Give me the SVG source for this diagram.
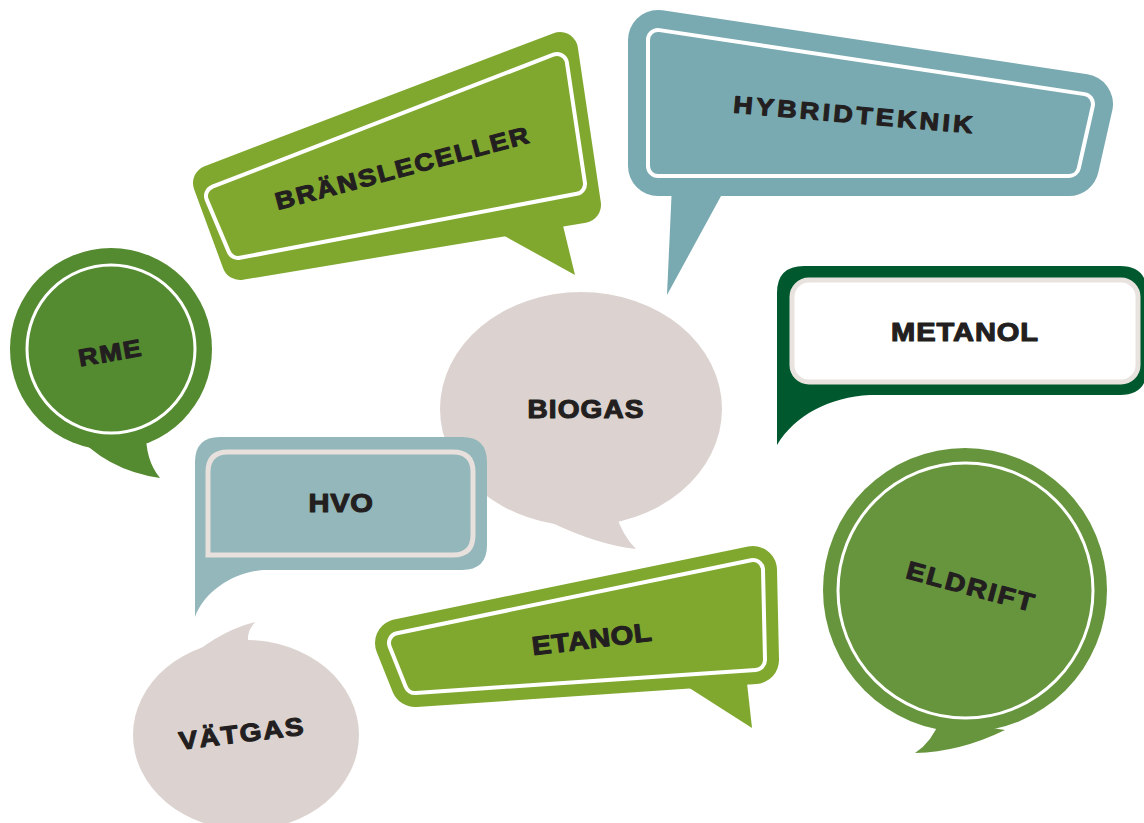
<svg xmlns="http://www.w3.org/2000/svg" width="1144" height="823" viewBox="0 0 1144 823">
<style>
.t{font-family:"Liberation Sans",Arial,sans-serif;font-weight:bold;fill:#231f20;stroke:#231f20;stroke-width:1.1;stroke-linejoin:round;text-anchor:middle}
.rj{stroke-linejoin:round}
</style>
<rect width="1144" height="823" fill="#ffffff"/>
<g id="rme">
<circle cx="111" cy="349" r="101" fill="#548a30"/>
<path d="M72,430 Q105,470 160,478 Q145,460 146,430 Z" fill="#548a30"/>
<circle cx="111" cy="349" r="84" fill="none" stroke="#ffffff" stroke-width="3"/>
<text class="t" font-size="24" letter-spacing="1.5" transform="translate(112,361) rotate(-10) scale(1.12,1)">RME</text>
</g>
<g id="bransleceller">
<path d="M490,228 L575,275 L558,205 Z" fill="#80a82f"/>
<polygon class="rj" points="211,183 560,50 583,205 240,262" fill="#80a82f" stroke="#80a82f" stroke-width="36"/>
<polygon class="rj" points="216,196 557,64 575,184 238,248" fill="none" stroke="#ffffff" stroke-width="24"/>
<polygon class="rj" points="216,196 557,64 575,184 238,248" fill="#80a82f" stroke="#80a82f" stroke-width="16"/>
<text class="t" font-size="24" letter-spacing="1.8" transform="translate(405,176) rotate(-15) scale(1.12,1)">BRÄNSLECELLER</text>
</g>
<g id="hybridteknik">
<path d="M672,185 L727,185 L667,295 Z" fill="#79aab1"/>
<polygon class="rj" points="658,40 1083,104 1069,166 658,166" fill="#79aab1" stroke="#79aab1" stroke-width="60"/>
<polygon class="rj" points="658,40 1083,104 1069,166 658,166" fill="none" stroke="#ffffff" stroke-width="24"/>
<polygon class="rj" points="658,40 1083,104 1069,166 658,166" fill="#79aab1" stroke="#79aab1" stroke-width="16"/>
<text class="t" font-size="24" letter-spacing="3" transform="translate(854,123) rotate(5) scale(1.12,1)">HYBRIDTEKNIK</text>
</g>
<g id="metanol">
<path d="M777,293 Q777,266 804,266 L1120,266 Q1147,266 1147,293 L1147,368 Q1147,395 1120,395 L870,395 C830,397 795,415 777,445 Z" fill="#00592e"/>
<rect x="792" y="280" width="346" height="102" rx="17" fill="#ffffff" stroke="#e9e3e0" stroke-width="5"/>
<text class="t" font-size="26" letter-spacing="0.8" transform="translate(965,341) scale(1.12,1)">METANOL</text>
</g>
<g id="biogas">
<ellipse cx="581" cy="409" rx="141" ry="117" fill="#dcd3d0"/>
<path d="M550,522 Q598,545 636,549 Q622,535 616,514 Z" fill="#dcd3d0"/>
<text class="t" font-size="25" letter-spacing="1" transform="translate(586,418) scale(1.12,1)">BIOGAS</text>
</g>
<g id="hvo">
<path d="M195,462 Q195,437 220,437 L462,437 Q487,437 487,462 L487,545 Q487,570 462,570 L263,570 C235,572 205,590 195,617 Z" fill="#93b7ba"/>
<path d="M208,555 L208,472 Q208,452 228,452 L453,452 Q473,452 473,472 L473,535 Q473,555 453,555 Z" fill="none" stroke="#e8e0dc" stroke-width="5"/>
<text class="t" font-size="26" letter-spacing="0.6" transform="translate(341,512) scale(1.12,1)">HVO</text>
</g>
<g id="etanol">
<path d="M680,682 L752,728 L745,665 Z" fill="#80a82f"/>
<polygon class="rj" points="399,643 753,570 755,660 415,683" fill="#80a82f" stroke="#80a82f" stroke-width="48"/>
<polygon class="rj" points="399,643 753,570 755,660 415,683" fill="none" stroke="#ffffff" stroke-width="24"/>
<polygon class="rj" points="399,643 753,570 755,660 415,683" fill="#80a82f" stroke="#80a82f" stroke-width="16"/>
<text class="t" font-size="26" letter-spacing="0.5" transform="translate(593,648) rotate(-7) scale(1.12,1)">ETANOL</text>
</g>
<g id="vatgas">
<ellipse cx="246" cy="735" rx="113" ry="95" fill="#dcd3d0"/>
<path d="M178,668 Q215,632 255,622 Q244,635 250,648 Z" fill="#dcd3d0"/>
<text class="t" font-size="25" letter-spacing="1.5" transform="translate(243,742) rotate(-7) scale(1.12,1)">VÄTGAS</text>
</g>
<g id="eldrift">
<circle cx="965" cy="590" r="142" fill="#67953e"/>
<path d="M940,720 Q932,742 915,753 Q960,752 1005,730 Z" fill="#67953e"/>
<circle cx="965.5" cy="590.5" r="127.5" fill="none" stroke="#ffffff" stroke-width="3"/>
<text class="t" font-size="25" letter-spacing="1.9" transform="translate(969,595) rotate(15) scale(1.12,1)">ELDRIFT</text>
</g>
</svg>
